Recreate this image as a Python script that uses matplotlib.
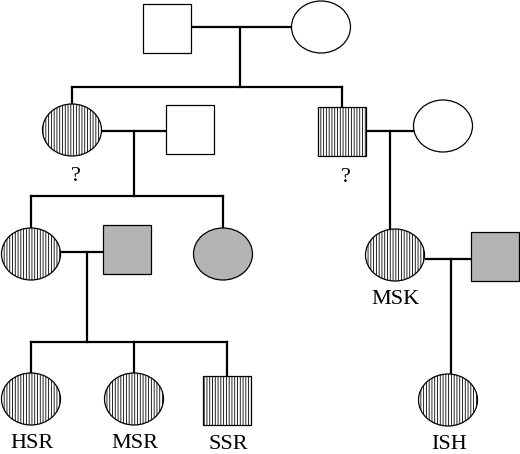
import matplotlib
matplotlib.use("Agg")
import matplotlib.pyplot as plt
from matplotlib.patches import Ellipse, Rectangle

# Individuals of the pedigree
ids = ["I1", "I2", "II1", "II2", "II3", "II4", "III1", "III2", "III3", "III4", "III5",
       "IV1", "IV2", "IV3", "IV4"]
sex = ["M", "F", "F", "M", "M", "F", "F", "M", "F", "F", "M", "F", "F", "M", "F"]
status = ["none", "none", "hatch", "none", "hatch", "none", "hatch", "grey", "grey",
          "hatch", "grey", "hatch", "hatch", "hatch", "hatch"]
labels = ["", "", "?", "", "?", "", "", "", "", "MSK", "", "HSR", "MSR", "SSR", "ISH"]

# Layout (pixel coordinates of symbol centres)
pos_x = [167, 321, 72, 190, 342, 443, 31, 127, 223, 395, 495, 31, 134, 227, 448]
pos_y = [28, 27, 130, 129, 131, 126, 254, 249, 254, 255, 256, 399, 399, 400, 400]

# Marriages: (partner1, partner2, children)
unions = [("I1", "I2", ["II1", "II3"]),
          ("II1", "II2", ["III1", "III3"]),
          ("II3", "II4", ["III4"]),
          ("III1", "III2", ["IV1", "IV2", "IV3"]),
          ("III4", "III5", ["IV4"])]
# layout of descent lines: x of drop, y of marriage bar, y of sibship bar
drop_x = [240, 134, 390, 87, 451]
mar_y = [27, 131, 131, 252, 259]
sib_y = [87, 196, None, 342, None]

W, H = 520, 454
fig = plt.figure(figsize=(W / 100, H / 100), dpi=100)
ax = fig.add_axes([0, 0, 1, 1])
ax.set_xlim(0, W)
ax.set_ylim(H, 0)
ax.axis("off")
plt.rcParams["hatch.linewidth"] = 0.6

sym_w, sym_h = 59, 52
sq_w, sq_h = 48, 49
P = {i: (x, y) for i, x, y in zip(ids, pos_x, pos_y)}
S = dict(zip(ids, sex))

def half_w(i):
    return sym_w / 2 if S[i] == "F" else sq_w / 2

def half_h(i):
    return sym_h / 2 if S[i] == "F" else sq_h / 2

lw_line = 1.6
for (a, b, kids), dx, my, sy in zip(unions, drop_x, mar_y, sib_y):
    (xa, ya), (xb, yb) = P[a], P[b]
    if xa > xb:
        a, b = b, a
        (xa, ya), (xb, yb) = (xb, yb), (xa, ya)
    ax.plot([xa + half_w(a), xb - half_w(b)], [my, my], color="black", lw=lw_line,
            solid_capstyle="butt", zorder=1)
    if sy is None:
        k = kids[0]
        ax.plot([dx, dx], [my, P[k][1] - half_h(k)], color="black", lw=lw_line, zorder=1)
    else:
        ax.plot([dx, dx], [my, sy], color="black", lw=lw_line, zorder=1)
        kx = [P[k][0] for k in kids]
        ax.plot([min(kx), max(kx)], [sy, sy], color="black", lw=lw_line,
                solid_capstyle="projecting", zorder=1)
        for k in kids:
            ax.plot([P[k][0], P[k][0]], [sy, P[k][1] - half_h(k)], color="black",
                    lw=lw_line, zorder=1)

for i, s, st, lab in zip(ids, sex, status, labels):
    x, y = P[i]
    fc = {"none": "white", "hatch": "white", "grey": "#b4b4b4"}[st]
    hatch = "||||||" if st == "hatch" else None
    if s == "F":
        p = Ellipse((x, y), sym_w, sym_h, facecolor=fc, edgecolor="black", lw=0.9,
                    hatch=hatch, zorder=2)
    else:
        p = Rectangle((x - sq_w / 2, y - sq_h / 2), sq_w, sq_h, facecolor=fc,
                      edgecolor="black", lw=0.9, hatch=hatch, zorder=2)
    ax.add_patch(p)
    if lab:
        off = 49 if lab != "?" else 51
        ax.text(x + (4 if lab == "?" else 1), y + off, lab, ha="center", va="baseline",
                fontsize=16, family="Liberation Serif", color="black")

fig.savefig("out.png", dpi=100, facecolor="white")
